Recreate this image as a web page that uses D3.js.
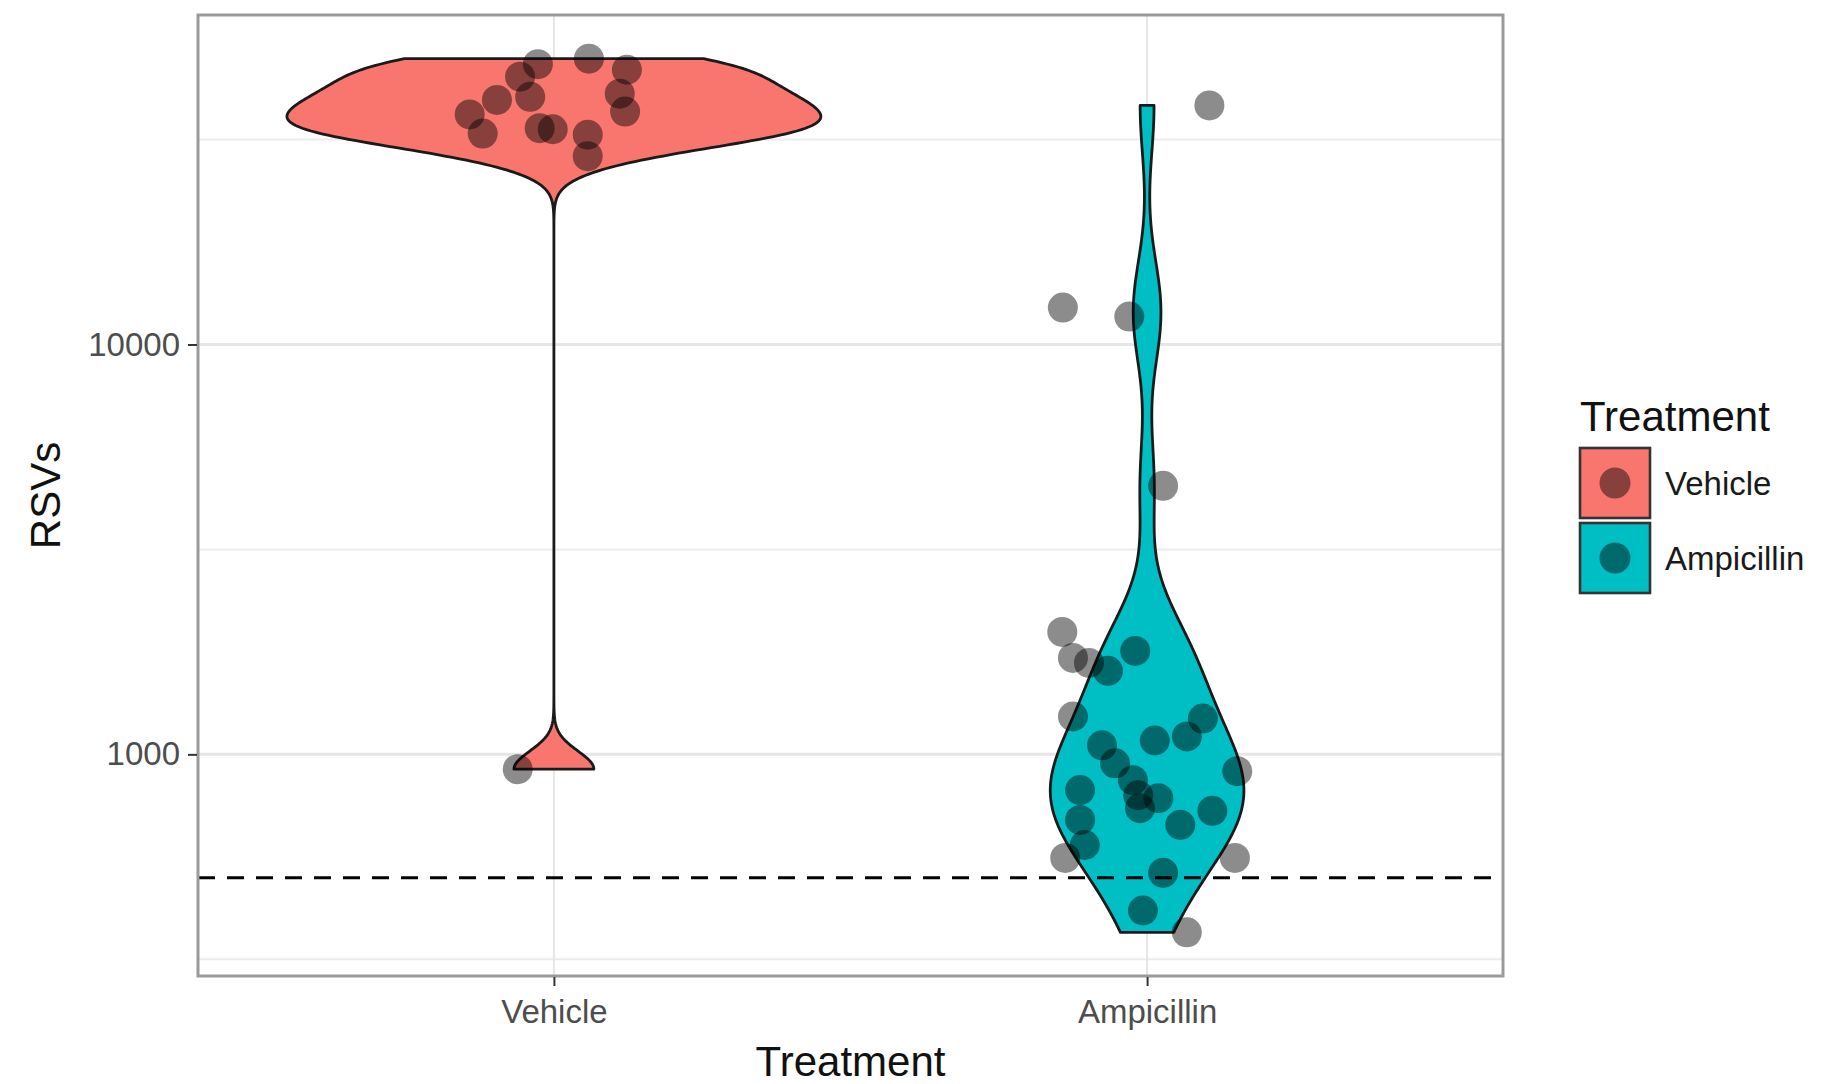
<!DOCTYPE html>
<html>
<head>
<meta charset="utf-8">
<script src="https://cdn.jsdelivr.net/npm/d3@7"></script>
<style>
  body { margin: 0; background: #ffffff; }
  text { font-family: "Liberation Sans", Arial, Helvetica, sans-serif; }
</style>
</head>
<body>
<svg id="chart" width="1843" height="1084"></svg>
<script>
// Treatment groups and their fill colours
const categories = ["Vehicle", "Ampicillin"];
const fillColors = ["#F8766D", "#00BFC4"];

// RSV counts per animal, Vehicle group
const vehicleRSV = [48300, 49800, 46800, 45000, 40200, 39500, 40900, 37000,
                    36400, 32700, 33700, 33500, 32500, 28800, 920];
// horizontal jitter of each Vehicle point (fraction of the category step)
const vehicleJitter = [-0.027, 0.059, 0.123, -0.057, -0.040, -0.096, 0.111, 0.120,
                       -0.142, -0.120, -0.024, -0.002, 0.057, 0.057, -0.061];

// RSV counts per animal, Ampicillin group
const ampicillinRSV = [1989, 1719, 1671, 1599, 1788, 1237, 1052, 951, 865, 795,
                       739, 782, 1081, 1106, 1223, 910, 818, 692, 601, 559,
                       673, 728, 559, 514, 416, 368, 38300, 12300, 11700, 4520];
const ampicillinJitter = [-0.143, -0.125, -0.098, -0.066, -0.020, -0.125, -0.076, -0.054, -0.024, -0.015,
                          -0.012, 0.019, 0.013, 0.067, 0.094, 0.152, -0.113, -0.113, -0.105, -0.138,
                          0.056, 0.110, 0.148, 0.027, -0.007, 0.067, 0.105, -0.142, -0.030, 0.027];

// y axis breaks and labels
const yBreaks = [1000, 10000];
const yTickLabels = ["1000", "10000"];

// detection limit reference line
const detectionLimit = 500;

const groups = [
  { name: categories[0], fill: fillColors[0], values: vehicleRSV, jitter: vehicleJitter },
  { name: categories[1], fill: fillColors[1], values: ampicillinRSV, jitter: ampicillinJitter }
];

const svg = d3.select("#chart");
const panel = { left: 198, right: 1503, top: 15, bottom: 976 };

// x: discrete positions with 0.6-unit padding on each side
const x = d3.scalePoint().domain(categories).range([panel.left, panel.right]).padding(0.6);
const step = x.step();

// y: log10 scale, data range expanded by 5% on each side (in log space)
const allVals = groups.flatMap(g => g.values);
const lmin = Math.log10(d3.min(allVals)), lmax = Math.log10(d3.max(allVals));
const pad = 0.05 * (lmax - lmin);
const y = d3.scaleLog()
  .domain([Math.pow(10, lmin - pad), Math.pow(10, lmax + pad)])
  .range([panel.bottom, panel.top]);

// minor breaks halfway (in log space) between the majors, one beyond each end
const logMaj = yBreaks.map(Math.log10);
const dMaj = logMaj[1] - logMaj[0];
const minorBreaks = [logMaj[0] - dMaj / 2, ...logMaj.slice(1).map((l, i) => (l + logMaj[i]) / 2), logMaj[logMaj.length - 1] + dMaj / 2]
  .map(l => Math.pow(10, l))
  .filter(v => v >= y.domain()[0] && v <= y.domain()[1]);

// ---------- panel background and grid ----------
svg.append("rect")
  .attr("x", panel.left).attr("y", panel.top)
  .attr("width", panel.right - panel.left).attr("height", panel.bottom - panel.top)
  .attr("fill", "#ffffff");

const grid = svg.append("g");
grid.selectAll("line.minor").data(minorBreaks).join("line")
  .attr("x1", panel.left).attr("x2", panel.right)
  .attr("y1", d => y(d)).attr("y2", d => y(d))
  .attr("stroke", "#ebebeb").attr("stroke-width", 2);
grid.selectAll("line.majorY").data(yBreaks).join("line")
  .attr("x1", panel.left).attr("x2", panel.right)
  .attr("y1", d => y(d)).attr("y2", d => y(d))
  .attr("stroke", "#e6e6e6").attr("stroke-width", 3);
grid.selectAll("line.majorX").data(categories).join("line")
  .attr("x1", d => x(d)).attr("x2", d => x(d))
  .attr("y1", panel.top).attr("y2", panel.bottom)
  .attr("stroke", "#e6e6e6").attr("stroke-width", 2);

// ---------- violins (gaussian KDE on log10 values, trimmed to data range) ----------
function bwNrd0(v) {
  const s = [...v].sort(d3.ascending);
  const sd = d3.deviation(s);
  const iqr = d3.quantileSorted(s, 0.75) - d3.quantileSorted(s, 0.25);
  let lo = Math.min(sd, iqr / 1.34);
  if (!(lo > 0)) lo = sd || Math.abs(s[0]) || 1;
  return 0.9 * lo * Math.pow(s.length, -0.2);
}
function kde(v, n) {
  const bw = bwNrd0(v);
  const lo = d3.min(v), hi = d3.max(v);
  const out = [];
  for (let i = 0; i < n; i++) {
    const t = lo + (hi - lo) * i / (n - 1);
    let s = 0;
    for (const xi of v) { const z = (t - xi) / bw; s += Math.exp(-0.5 * z * z); }
    out.push({ t, d: s / (v.length * bw * Math.sqrt(2 * Math.PI)) });
  }
  return out;
}
groups.forEach(g => { g.dens = kde(g.values.map(Math.log10), 512); });
const maxDens = d3.max(groups, g => d3.max(g.dens, p => p.d));
const halfWidth = 0.45 * step;

const area = d3.area()
  .y(p => y(Math.pow(10, p.t)));

svg.append("g").selectAll("path").data(groups).join("path")
  .attr("d", g => area
      .x0(p => x(g.name) - halfWidth * p.d / maxDens)
      .x1(p => x(g.name) + halfWidth * p.d / maxDens)(g.dens) + "Z")
  .attr("fill", g => g.fill)
  .attr("stroke", "#1a1a1a")
  .attr("stroke-width", 2.8)
  .attr("stroke-linejoin", "round");

// ---------- detection limit ----------
svg.append("line")
  .attr("x1", panel.left).attr("x2", panel.right)
  .attr("y1", y(detectionLimit)).attr("y2", y(detectionLimit))
  .attr("stroke", "#000000").attr("stroke-width", 3.2)
  .attr("stroke-dasharray", "17,12");

// ---------- jittered points ----------
const pts = groups.flatMap(g => g.values.map((v, i) => ({ g: g.name, v, j: g.jitter[i] })));
svg.append("g").selectAll("circle").data(pts).join("circle")
  .attr("cx", d => x(d.g) + d.j * step)
  .attr("cy", d => y(d.v))
  .attr("r", 15)
  .attr("fill", "#000000")
  .attr("fill-opacity", 0.45);

// ---------- panel border ----------
svg.append("rect")
  .attr("x", panel.left).attr("y", panel.top)
  .attr("width", panel.right - panel.left).attr("height", panel.bottom - panel.top)
  .attr("fill", "none").attr("stroke", "#9a9a9a").attr("stroke-width", 3);

// ---------- axes ----------
const xAxis = svg.append("g").attr("transform", `translate(0,${panel.bottom + 1})`)
  .call(d3.axisBottom(x).tickSize(9).tickPadding(14));
const yAxis = svg.append("g").attr("transform", `translate(${panel.left - 1},0)`)
  .call(d3.axisLeft(y).tickValues(yBreaks).tickFormat((d, i) => yTickLabels[i]).tickSize(9).tickPadding(8));
[xAxis, yAxis].forEach(a => {
  a.select(".domain").remove();
  a.selectAll(".tick line").attr("stroke", "#333333").attr("stroke-width", 2);
  a.selectAll(".tick text")
    .attr("fill", "#4d4d4d")
    .style("font-size", "33px")
    .style("font-family", "'Liberation Sans', Arial, sans-serif");
});

// axis titles
svg.append("text")
  .attr("x", (panel.left + panel.right) / 2).attr("y", 1076)
  .attr("text-anchor", "middle")
  .style("font-size", "42px").attr("fill", "#111111")
  .text("Treatment");
svg.append("text")
  .attr("transform", `translate(60,${(panel.top + panel.bottom) / 2}) rotate(-90)`)
  .attr("text-anchor", "middle")
  .style("font-size", "42px").attr("fill", "#111111")
  .text("RSVs");

// ---------- legend ----------
const legend = svg.append("g").attr("transform", "translate(1580,0)");
legend.append("text")
  .attr("x", 0).attr("y", 431)
  .style("font-size", "42px").attr("fill", "#111111")
  .text("Treatment");
const keySize = 70;
const keyTop = [448, 523];
const keys = legend.selectAll("g.key").data(groups).join("g")
  .attr("transform", (g, i) => `translate(0,${keyTop[i]})`);
keys.append("rect")
  .attr("width", keySize).attr("height", keySize)
  .attr("fill", g => g.fill)
  .attr("stroke", "#333333").attr("stroke-width", 2.6);
keys.append("circle")
  .attr("cx", keySize / 2).attr("cy", keySize / 2).attr("r", 15.5)
  .attr("fill", "#000000").attr("fill-opacity", 0.45);
keys.append("text")
  .attr("x", 85).attr("y", keySize / 2).attr("dy", "0.35em")
  .style("font-size", "33px").attr("fill", "#1a1a1a")
  .text(g => g.name);
</script>
</body>
</html>
